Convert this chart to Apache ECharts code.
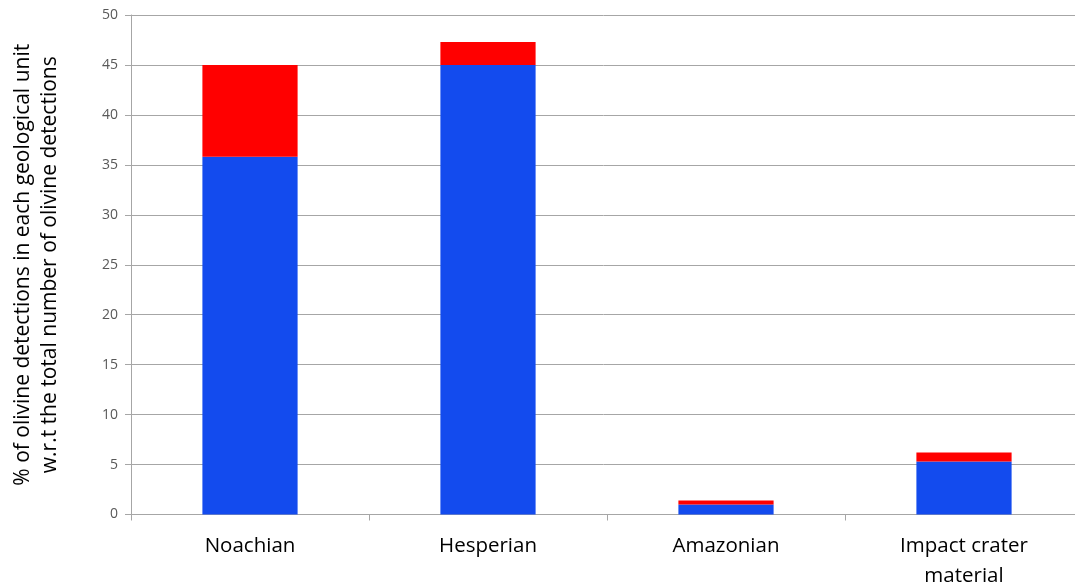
<!DOCTYPE html>
<html>
<head>
<meta charset="utf-8">
<script src="https://cdn.jsdelivr.net/npm/echarts@6/dist/echarts.min.js"></script>
<style>
  html, body { margin: 0; padding: 0; background: #fff; }
  #chart { width: 1075px; height: 585px; }
</style>
</head>
<body>
<div id="chart"></div>
<script>
// geological units
const categories = ['Noachian', 'Hesperian', 'Amazonian', 'Impact crater\nmaterial'];
// lower (blue) and upper (red) parts of each stack
const blueValues = [35.8, 45.0, 1.0, 5.3];
const redValues = [9.2, 2.3, 0.4, 0.9];

const chart = echarts.init(document.getElementById('chart'));

const option = {
  animation: false,
  textStyle: { fontFamily: 'Open Sans' },
  grid: { left: 131, right: -8, top: 15, bottom: 70.5, outerBoundsMode: 'none', containLabel: false },
  xAxis: {
    type: 'category',
    data: categories,
    axisLine: { lineStyle: { color: '#a6a6a6' } },
    axisTick: { show: true, length: 6, lineStyle: { color: '#a6a6a6' } },
    axisLabel: { color: '#000', fontSize: 20.5, margin: 17, lineHeight: 30, fontFamily: 'Open Sans' }
  },
  yAxis: {
    type: 'value',
    min: 0,
    max: 50,
    interval: 5,
    name: '% of olivine detections in each geological unit\nw.r.t the total number of olivine detections',
    nameLocation: 'middle',
    nameGap: 67,
    nameTextStyle: { color: '#000', fontSize: 21, lineHeight: 27, fontFamily: 'Open Sans' },
    axisLine: { show: true, lineStyle: { color: '#a6a6a6' } },
    axisTick: { show: true, length: 6, lineStyle: { color: '#a6a6a6' } },
    axisLabel: { color: '#595959', fontSize: 14, margin: 13 },
    splitLine: { lineStyle: { color: '#a6a6a6' } }
  },
  series: [
    {
      name: 'lower',
      type: 'bar',
      stack: 'total',
      data: blueValues,
      barWidth: '40%',
      itemStyle: { color: '#134bee' }
    },
    {
      name: 'upper',
      type: 'bar',
      stack: 'total',
      data: redValues,
      barWidth: '40%',
      itemStyle: { color: '#ff0000' }
    }
  ]
};

chart.setOption(option);
</script>
</body>
</html>
